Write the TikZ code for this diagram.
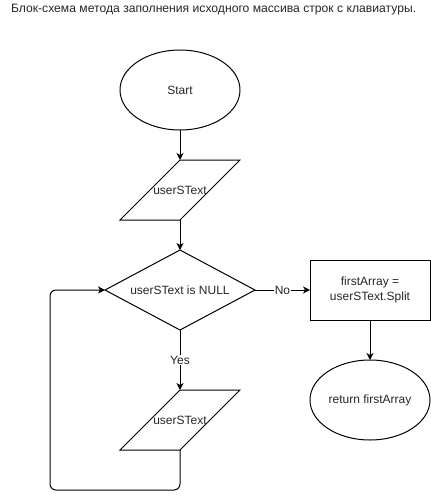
\documentclass[tikz,border=0pt]{standalone}
\usepackage{fontspec}
\setmainfont{Liberation Sans}
\usetikzlibrary{shapes.geometric,arrows.meta}
\begin{document}
\begin{tikzpicture}[x=1pt,y=-1pt,
  every node/.style={font=\fontsize{12}{15}\selectfont, text=black!85, inner sep=0pt, outer sep=0pt},
  base/.style={draw=black, line width=1pt},
  terminal/.style={base, ellipse, minimum width=120pt, minimum height=80pt},
  io/.style={base, trapezium, trapezium stretches=true,
    trapezium left angle=71.57, trapezium right angle=108.43,
    minimum width=120pt, minimum height=60pt},
  decision/.style={base, diamond, aspect=1.875, minimum width=150pt, minimum height=80pt},
  process/.style={base, rectangle, align=center, minimum width=120pt, minimum height=60pt},
  flow/.style={line width=1pt, -{Stealth[length=7pt,width=7pt,inset=2pt]}},
  edgelabel/.style={fill=white, inner sep=1pt}
]
\useasboundingbox (0,0) rectangle (431,499);

\node[anchor=west, font=\fontsize{12.15}{15}\selectfont] (title) at (11,10) {Блок-схема метода заполнения исходного массива строк с клавиатуры.};

\node[terminal] (start) at (180,90) {\makebox[0pt]{Start}};
\node[io] (input1) at (180,190) {\makebox[0pt]{userSText}};
\node[decision] (check) at (180,290) {\makebox[0pt]{userSText is NULL}};
\node[process] (split) at (370,290) {firstArray =\\userSText.Split};
\node[terminal] (ret) at (370,400) {\makebox[0pt]{return firstArray}};
\node[io] (input2) at (180,420) {\makebox[0pt]{userSText}};

\coordinate (loopA) at (180,490);
\coordinate (loopB) at (50,490);
\coordinate (loopC) at (50,290);

\draw[flow] (start) -- (input1);
\draw[flow] (input1) -- (check);
\draw[flow] (check) -- node[edgelabel] {No} (split);
\draw[flow] (split) -- (ret);
\draw[flow] (check) -- node[edgelabel] {Yes} (input2);
\draw[flow, rounded corners=6pt] (input2.south) -- (loopA) -- (loopB) -- (loopC) -- (check.west);
\end{tikzpicture}
\end{document}
